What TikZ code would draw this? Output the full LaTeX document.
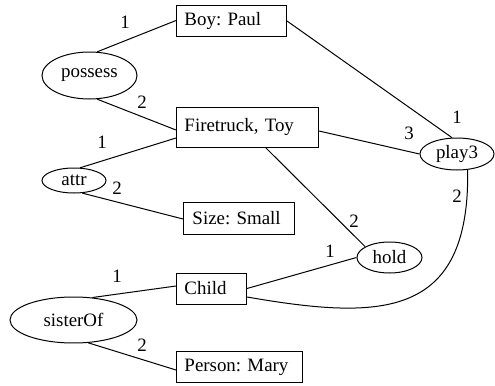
\documentclass[tikz,border=0pt]{standalone}
\usepackage{fontspec}
\setmainfont{Liberation Serif}
\usetikzlibrary{shapes.geometric,calc}
\frenchspacing
\begin{document}
\begin{tikzpicture}[x=0.5pt,y=-0.5pt,
  font=\fontsize{9.45}{11}\selectfont\frenchspacing,
  every path/.style={line width=0.5pt},
  conc/.style={draw,rectangle,anchor=west,inner ysep=0pt,inner xsep=4pt,align=left},
  rel/.style={draw,ellipse,inner sep=0pt},
  lab/.style={inner sep=0pt}]
\useasboundingbox (0,0) rectangle (495,386);
% concepts
\node[conc,text width=47pt,minimum height=15.5pt] (boy) at (176,20.5) {Boy: Paul};
\node[conc,text width=63pt,minimum height=20pt] (fire) at (176,127) {Firetruck, Toy};
\node[conc,text width=46.5pt,inner xsep=4.5pt,minimum height=16pt] (size) at (183,218) {Size: Small};
\node[conc,text width=27pt,minimum height=15.5pt] (child) at (176,288.5) {Child};
\node[conc,text width=55pt,minimum height=15.5pt] (person) at (176,367.5) {Person: Mary};
% relations
\node[rel,minimum width=47.5pt,minimum height=23.5pt] (possess) at (89.5,75.5) {possess};
\node[rel,minimum width=32pt,minimum height=12.5pt] (attr) at (74,180.5) {attr};
\node[rel,minimum width=37pt,minimum height=16pt] (play) at (457,154) {play3};
\node[rel,minimum width=32.5pt,minimum height=15.5pt] (hold) at (389.5,257.5) {hold};
\node[rel,minimum width=63.5pt,minimum height=23pt] (sister) at (73.5,320) {sisterOf};
% arcs
\draw (possess.72) -- (boy.west);
\draw (possess.-72) -- ($(fire.west)+(0,3)$);
\draw (attr.64) -- ($(fire.west)+(0,11)$);
\draw (attr.-57) -- ($(size.west)+(0,1)$);
\draw ($(boy.east)+(0,0.5)$) -- (play.107);
\draw ($(fire.east)+(0,4)$) -- (play.west);
\draw ($(fire.south)+(18,0)$) -- (hold.156);
\draw (child.east) -- (hold.west);
\draw ($(child.east)+(0,8.5)$) .. controls (380,320) and (470,320) .. (play.-56);
\draw (sister.50) -- ($(child.west)+(0,-2.5)$);
\draw (sister.-57) -- ($(person.west)+(0,2.5)$);
% labels
\node[lab] (l1) at (125,22) {1};
\node[lab] (l2) at (142,102) {2};
\node[lab] (l3) at (102,142) {1};
\node[lab] (l4) at (117,188) {2};
\node[lab] (l5) at (457,117) {1};
\node[lab] (l6) at (409,133) {3};
\node[lab] (l7) at (354,221) {2};
\node[lab] (l8) at (330,251) {1};
\node[lab] (l9) at (457,196) {2};
\node[lab] (l10) at (117,276) {1};
\node[lab] (l11) at (142,345) {2};
\end{tikzpicture}
\end{document}
